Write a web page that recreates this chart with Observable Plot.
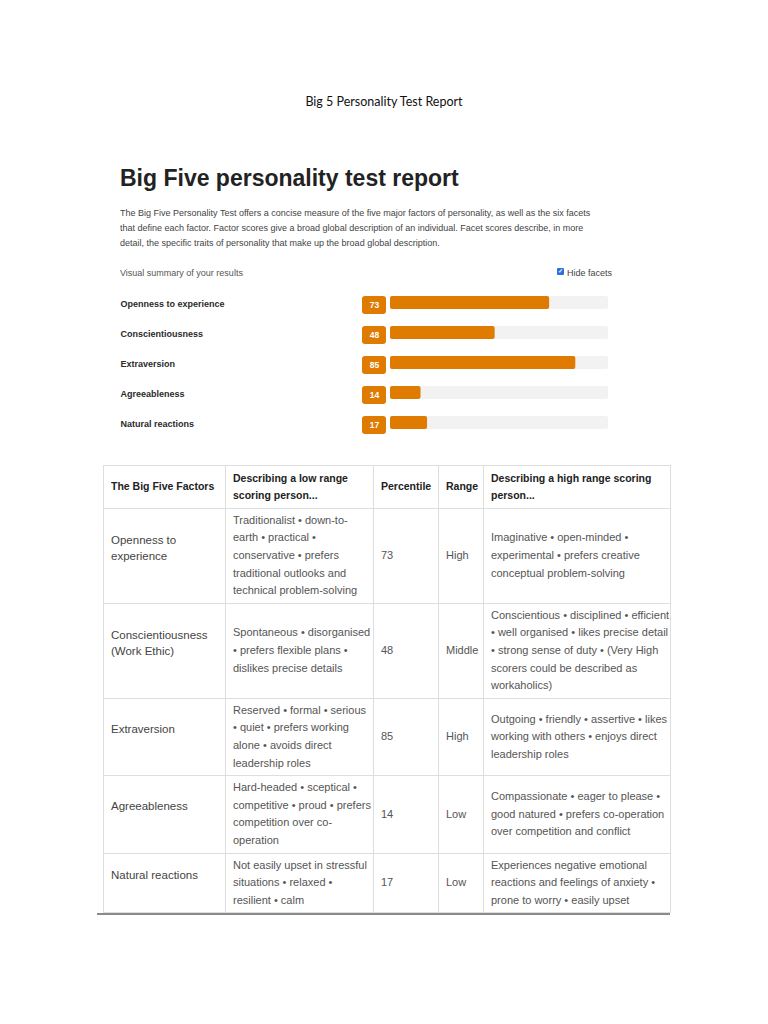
<!DOCTYPE html>
<html>
<head>
<meta charset="utf-8">
<script src="https://cdn.jsdelivr.net/npm/d3@7"></script>
<script src="https://cdn.jsdelivr.net/npm/@observablehq/plot@0.6"></script>
<style>
  html, body { margin: 0; padding: 0; background: #fff; }
  body { width: 768px; height: 1024px; position: relative; overflow: hidden; font-family: "Liberation Sans", Arial, sans-serif; }
  .abs { position: absolute; }
  #doctitle { top: 94px; left: 0; width: 768px; text-align: center; font-family: Lato, "Open Sans", sans-serif; font-size: 12.5px; line-height: 16px; color: #111; }
  #heading { top: 167px; left: 120px; font-size: 23px; line-height: 23px; font-weight: bold; color: #222; white-space: nowrap; }
  #intro { top: 206px; left: 120px; font-size: 9px; line-height: 15px; color: #444; white-space: nowrap; }
  #summary { top: 266px; left: 120px; font-size: 9px; line-height: 15px; color: #555; }
  #hide { top: 266px; left: 557px; font-size: 9px; line-height: 15px; color: #444; white-space: nowrap; }
  #hide .box { display: inline-block; width: 7px; height: 7px; background: #2a6fdb; border-radius: 1px; vertical-align: 3px; margin-right: 3px; color: #fff; font-size: 6px; line-height: 7px; text-align: center; font-weight: bold; }
  #chart { top: 288px; left: 108px; }
  #table { top: 465px; left: 103px; border-collapse: collapse; table-layout: fixed; width: 567px; }
  #table td, #table th { border: 1px solid #dedede; padding: 3px 7px 3px 7px; vertical-align: middle; text-align: left; font-size: 11px; line-height: 17.6px; color: #555; overflow: hidden; white-space: nowrap; }
  #table th { font-weight: bold; color: #222; font-size: 10.5px; line-height: 17.4px; padding-top: 3.5px; padding-bottom: 3.5px; }
  #table td.c1 { font-size: 11.5px; line-height: 16px; color: #444; padding-bottom: 19px; }
  #bottomline { top: 913px; left: 97px; width: 573px; height: 2px; background: #8a8a8a; }
</style>
</head>
<body>
<div id="doctitle" class="abs">Big 5 Personality Test Report</div>
<div id="heading" class="abs">Big Five personality test report</div>
<div id="intro" class="abs">The Big Five Personality Test offers a concise measure of the five major factors of personality, as well as the six facets<br>that define each factor. Factor scores give a broad global description of an individual. Facet scores describe, in more<br>detail, the specific traits of personality that make up the broad global description.</div>
<div id="summary" class="abs">Visual summary of your results</div>
<div id="hide" class="abs"><span class="box">&#10003;</span>Hide facets</div>
<div id="chart" class="abs"></div>
<table id="table" class="abs"></table>
<div id="bottomline" class="abs"></div>

<script>
// ---- Data ----
const factors = ["Openness to experience", "Conscientiousness", "Extraversion", "Agreeableness", "Natural reactions"];
const scores = [73, 48, 85, 14, 17];

const tableHeaders = [
  ["The Big Five Factors"],
  ["Describing a low range", "scoring person..."],
  ["Percentile"],
  ["Range"],
  ["Describing a high range scoring", "person..."]
];
const tableFactors = [
  ["Openness to", "experience"],
  ["Conscientiousness", "(Work Ethic)"],
  ["Extraversion"],
  ["Agreeableness"],
  ["Natural reactions"]
];
const percentiles = [73, 48, 85, 14, 17];
const ranges = ["High", "Middle", "High", "Low", "Low"];
const lowDescriptions = [
  ["Traditionalist \u2022 down-to-", "earth \u2022 practical \u2022", "conservative \u2022 prefers", "traditional outlooks and", "technical problem-solving"],
  ["Spontaneous \u2022 disorganised", "\u2022 prefers flexible plans \u2022", "dislikes precise details"],
  ["Reserved \u2022 formal \u2022 serious", "\u2022 quiet \u2022 prefers working", "alone \u2022 avoids direct", "leadership roles"],
  ["Hard-headed \u2022 sceptical \u2022", "competitive \u2022 proud \u2022 prefers", "competition over co-", "operation"],
  ["Not easily upset in stressful", "situations \u2022 relaxed \u2022", "resilient \u2022 calm"]
];
const highDescriptions = [
  ["Imaginative \u2022 open-minded \u2022", "experimental \u2022 prefers creative", "conceptual problem-solving"],
  ["Conscientious \u2022 disciplined \u2022 efficient", "\u2022 well organised \u2022 likes precise detail", "\u2022 strong sense of duty \u2022 (Very High", "scorers could be described as", "workaholics)"],
  ["Outgoing \u2022 friendly \u2022 assertive \u2022 likes", "working with others \u2022 enjoys direct", "leadership roles"],
  ["Compassionate \u2022 eager to please \u2022", "good natured \u2022 prefers co-operation", "over competition and conflict"],
  ["Experiences negative emotional", "reactions and feelings of anxiety \u2022", "prone to worry \u2022 easily upset"]
];

// ---- Chart ----
const data = factors.map((f, i) => ({factor: f, score: scores[i]}));
const orange = "#de7b00";

const chart = Plot.plot({
  width: 540,
  height: 150,
  marginTop: 0, marginBottom: 0, marginLeft: 0, marginRight: 0,
  x: {domain: [0, 100], range: [282, 500], axis: null},
  y: {domain: factors, axis: null, padding: 0},
  style: {fontFamily: '"Liberation Sans", Arial, sans-serif', background: "transparent"},
  marks: [
    // track
    Plot.barX(data, {x1: 0, x2: 100, y: "factor", fill: "#f2f2f2", insetTop: 8, insetBottom: 9, rx: 2}),
    // value bar
    Plot.barX(data, {x1: 0, x2: "score", y: "factor", fill: orange, insetTop: 8, insetBottom: 9, rx: 2}),
    // badge
    Plot.barX(data, {x1: 0, x2: 0, y: "factor", fill: orange, insetLeft: -28, insetRight: 4, insetTop: 8, insetBottom: 4, rx: 3}),
    Plot.text(data, {x: 0, y: "factor", text: d => String(d.score), dx: -16, dy: 2, fill: "#fff", fontWeight: "bold", fontSize: 8.5}),
    // factor labels
    Plot.text(data, {y: "factor", text: "factor", frameAnchor: "left", textAnchor: "start", dx: 12, dy: 1, fill: "#2a2a2a", fontWeight: "bold", fontSize: 9})
  ]
});
document.getElementById("chart").appendChild(chart);

// ---- Table ----
const table = document.getElementById("table");
const colWidths = [122, 148, 65, 45, 187];
const colgroup = document.createElement("colgroup");
colWidths.forEach(w => { const c = document.createElement("col"); c.style.width = w + "px"; colgroup.appendChild(c); });
table.appendChild(colgroup);
const thead = document.createElement("tr");
tableHeaders.forEach(lines => { const th = document.createElement("th"); th.innerHTML = lines.join("<br>"); thead.appendChild(th); });
table.appendChild(thead);
tableFactors.forEach((f, i) => {
  const tr = document.createElement("tr");
  const cells = [f, lowDescriptions[i], [String(percentiles[i])], [ranges[i]], highDescriptions[i]];
  cells.forEach((lines, j) => {
    const td = document.createElement("td");
    if (j === 0) td.className = "c1";
    td.innerHTML = lines.join("<br>");
    tr.appendChild(td);
  });
  table.appendChild(tr);
});
</script>
</body>
</html>
